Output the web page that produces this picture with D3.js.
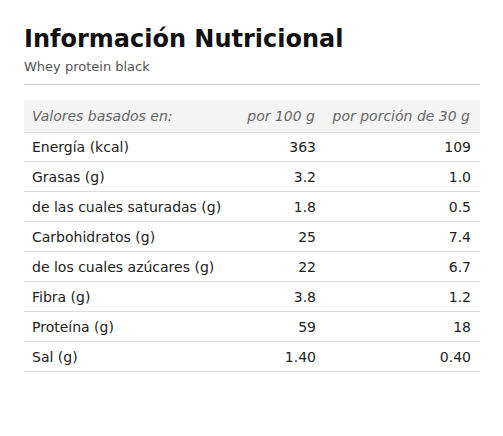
<!DOCTYPE html>
<html><head><meta charset="utf-8">
<script src="https://cdn.jsdelivr.net/npm/d3@7"></script>
<style>body{margin:0;background:#fff;font-family:"DejaVu Sans",sans-serif;}</style>
</head><body><svg id="chart"></svg>
<script>
var headers = ["Valores basados en:", "por 100 g", "por porción de 30 g"];
var nutrients = ["Energía (kcal)", "Grasas (g)", "de las cuales saturadas (g)", "Carbohidratos (g)",
    "de los cuales azúcares (g)", "Fibra (g)", "Proteína (g)", "Sal (g)"];
var per100 = ["363", "3.2", "1.8", "25", "22", "3.8", "59", "1.40"];
var perPortion = ["109", "1.0", "0.5", "7.4", "6.7", "1.2", "18", "0.40"];

var width = 503, height = 436;
var svg = d3.select('#chart').attr('width', width).attr('height', height);

svg.append('text').text('Información Nutricional')
    .attr('x', 24).attr('y', 47).attr('font-size', '24px').attr('font-weight', 'bold').attr('fill', '#111');
svg.append('text').text('Whey protein black')
    .attr('x', 24).attr('y', 71).attr('font-size', '13px').attr('fill', '#555');
svg.append('line').attr('x1', 24).attr('x2', 480).attr('y1', 84.5).attr('y2', 84.5)
    .attr('stroke', '#ccc');

var left = 24, right = 480;
var col1 = 316, col2 = 471;

// header row
svg.append('rect').attr('x', left).attr('y', 100).attr('width', right - left).attr('height', 32)
    .attr('fill', '#f4f4f4');
svg.append('line').attr('x1', left).attr('x2', right).attr('y1', 132.5).attr('y2', 132.5).attr('stroke', '#ddd');
var hx = [32, col1 - 1, col2 - 1], ha = ['start', 'end', 'end'];
svg.selectAll('text.h').data(headers).enter().append('text').attr('class', 'h')
    .text(function (d) { return d; })
    .attr('x', function (d, i) { return hx[i]; })
    .attr('text-anchor', function (d, i) { return ha[i]; })
    .attr('y', 121).attr('font-size', '14px').attr('font-style', 'italic').attr('fill', '#666');

var yScale = d3.scaleBand().domain(d3.range(nutrients.length)).range([132, 372]);

var rows = svg.selectAll('g.row').data(nutrients).enter().append('g')
    .attr('transform', function (d, i) { return 'translate(0,' + yScale(i) + ')'; });
rows.append('line').attr('x1', left).attr('x2', right)
    .attr('y1', yScale.bandwidth() - 0.5).attr('y2', yScale.bandwidth() - 0.5).attr('stroke', '#ddd');
rows.append('text').text(function (d) { return d; })
    .attr('x', 32).attr('y', 20).attr('font-size', '14px').attr('fill', '#222');
rows.append('text').text(function (d, i) { return per100[i]; })
    .attr('x', col1).attr('y', 20).attr('text-anchor', 'end').attr('font-size', '14px').attr('fill', '#222');
rows.append('text').text(function (d, i) { return perPortion[i]; })
    .attr('x', col2).attr('y', 20).attr('text-anchor', 'end').attr('font-size', '14px').attr('fill', '#222');
</script></body></html>
